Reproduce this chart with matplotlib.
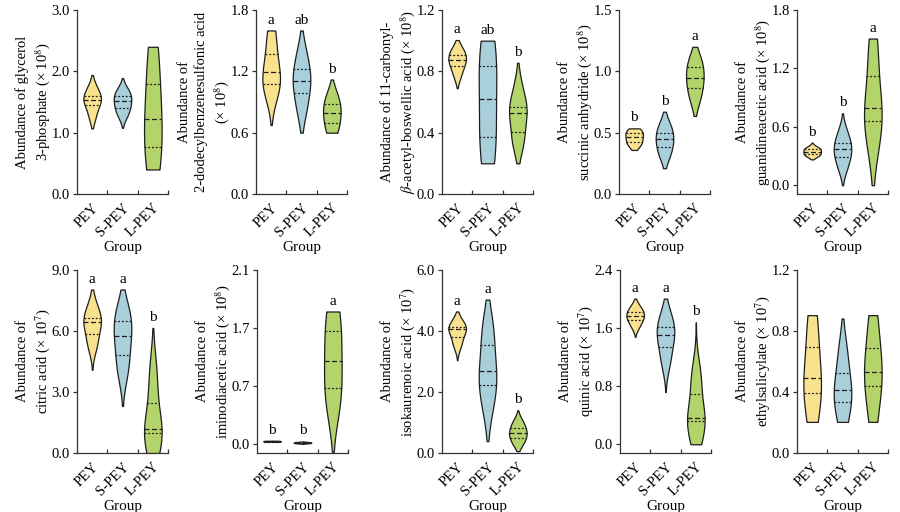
import numpy as np
import matplotlib.pyplot as plt
from matplotlib.transforms import ScaledTranslation

# Fontes: serifada parecida com Times, e STIX para a parte matemática
plt.rcParams['font.family'] = ['Liberation Serif', 'DejaVu Serif']
plt.rcParams['mathtext.fontset'] = 'stix'
plt.rcParams['font.size'] = 10.5

# Grupos e cores dos violinos
grupos = ['PEY', 'S-PEY', 'L-PEY']
cores = ['#F8E28D', '#A9CFDB', '#B3D36B']

# Amostras estimadas de cada metabólito (PEY, S-PEY, L-PEY)
# e a extensão visível de cada violino (mínimo, máximo)
glicerol = [[1.25, 1.42, 1.52, 1.56, 1.62, 1.75],
            [1.28, 1.38, 1.47, 1.55, 1.62, 1.70],
            [0.40, 0.65, 1.10, 1.36, 1.93, 2.40]]
glicerol_lim = [(1.07, 1.94), (1.08, 1.89), (0.40, 2.40)]
glicerol_letras = ['', '', '']

dodecil = [[0.98, 1.05, 1.16, 1.22, 1.42, 1.60],
           [0.80, 0.95, 1.09, 1.13, 1.25, 1.40],
           [0.60, 0.67, 0.78, 0.81, 0.90, 0.98]]
dodecil_lim = [(0.675, 1.60), (0.60, 1.60), (0.60, 1.12)]
dodecil_letras = ['a', 'ab', 'b']

boswellico = [[0.77, 0.83, 0.86, 0.89, 0.913, 0.95],
              [0.20, 0.33, 0.50, 0.74, 0.87, 1.00],
              [0.33, 0.372, 0.51, 0.55, 0.575, 0.70]]
boswellico_lim = [(0.69, 1.004), (0.20, 1.00), (0.20, 0.856)]
boswellico_letras = ['a', 'ab', 'b']

succinico = [[0.39, 0.42, 0.445, 0.48, 0.507, 0.52],
             [0.30, 0.367, 0.42, 0.472, 0.51, 0.58],
             [0.76, 0.85, 0.92, 0.976, 1.05, 1.11]]
succinico_lim = [(0.359, 0.535), (0.21, 0.671), (0.636, 1.20)]
succinico_letras = ['b', 'b', 'a']

guanidina = [[0.30, 0.315, 0.335, 0.355, 0.373, 0.39],
             [0.17, 0.27, 0.34, 0.398, 0.452, 0.56],
             [0.40, 0.635, 0.74, 0.846, 1.22, 1.507]]
guanidina_lim = [(0.266, 0.438), (0.0, 0.738), (0.0, 1.507)]
guanidina_letras = ['b', 'b', 'a']

citrico = [[5.2, 5.7, 6.3, 6.56, 6.67, 7.3],
           [3.9, 4.6, 5.52, 5.96, 6.69, 7.0],
           [0.0, 0.95, 1.15, 1.19, 2.9, 4.2]]
citrico_lim = [(4.09, 8.04), (2.31, 8.04), (0.0, 6.15)]
citrico_letras = ['a', 'a', 'b']

iminodiacetico = [[0.030, 0.033, 0.035, 0.037, 0.039, 0.042],
                  [0.012, 0.016, 0.019, 0.021, 0.024, 0.028],
                  [0.45, 0.60, 0.90, 1.116, 1.45, 1.60]]
iminodiacetico_lim = [(0.030, 0.042), (0.005, 0.035), (-0.09, 1.60)]
iminodiacetico_letras = ['b', 'b', 'a']

isokaurenoico = [[3.50, 3.747, 4.00, 4.10, 4.127, 4.35],
                 [1.50, 2.123, 2.55, 2.81, 3.783, 4.20],
                 [0.30, 0.457, 0.63, 0.69, 0.877, 1.05]]
isokaurenoico_lim = [(3.04, 4.64), (0.39, 5.03), (0.06, 1.40)]
isokaurenoico_letras = ['a', 'a', 'b']

quinico = [[1.62, 1.702, 1.75, 1.79, 1.835, 1.90],
           [1.10, 1.29, 1.47, 1.548, 1.644, 1.80],
           [0.0, 0.307, 0.34, 0.38, 0.80, 1.00]]
quinico_lim = [(1.48, 2.006), (0.72, 2.006), (0.0, 1.68)]
quinico_letras = ['a', 'a', 'b']

etilsalicilato = [[0.204, 0.374, 0.45, 0.532, 0.747, 0.904],
                  [0.204, 0.317, 0.39, 0.432, 0.557, 0.70],
                  [0.204, 0.416, 0.50, 0.56, 0.729, 0.904]]
etilsalicilato_lim = [(0.204, 0.904), (0.204, 0.882), (0.204, 0.904)]
etilsalicilato_letras = ['', '', '']

# Rótulos e escalas de cada painel
paineis = [
    (glicerol, glicerol_lim, glicerol_letras,
     'Abundance of glycerol\n3-phosphate (× 10$^{8}$)', (0, 3.0), [0, 1, 2, 3], None),
    (dodecil, dodecil_lim, dodecil_letras,
     'Abundance of\n2-dodecylbenzenesulfonic acid\n(× 10$^{8}$)', (0, 1.8), [0, 0.6, 1.2, 1.8], None),
    (boswellico, boswellico_lim, boswellico_letras,
     'Abundance of 11-carbonyl-\n$\\beta$-acetyl-boswellic acid (× 10$^{8}$)', (0, 1.2), [0, 0.4, 0.8, 1.2], None),
    (succinico, succinico_lim, succinico_letras,
     'Abundance of\nsuccinic anhydride (× 10$^{8}$)', (0, 1.5), [0, 0.5, 1.0, 1.5], None),
    (guanidina, guanidina_lim, guanidina_letras,
     'Abundance of\nguanidineacetic acid (× 10$^{8}$)', (-0.09, 1.8), [0, 0.6, 1.2, 1.8], None),
    (citrico, citrico_lim, citrico_letras,
     'Abundance of\ncitric acid (× 10$^{7}$)', (0, 9.0), [0, 3, 6, 9], None),
    (iminodiacetico, iminodiacetico_lim, iminodiacetico_letras,
     'Abundance of\niminodiacetic acid (× 10$^{8}$)', (-0.105, 2.1), [0, 0.7, 1.4, 2.1],
     ['0.0', '0.7', '1.7', '2.1']),
    (isokaurenoico, isokaurenoico_lim, isokaurenoico_letras,
     'Abundance of\nisokaurenoic acid (× 10$^{7}$)', (0, 6.0), [0, 2, 4, 6], None),
    (quinico, quinico_lim, quinico_letras,
     'Abundance of\nquinic acid (× 10$^{7}$)', (-0.12, 2.4), [0, 0.8, 1.6, 2.4], None),
    (etilsalicilato, etilsalicilato_lim, etilsalicilato_letras,
     'Abundance of\nethylsalicylate (× 10$^{7}$)', (0, 1.2), [0, 0.4, 0.8, 1.2], None),
]

# Posição dos eixos em pixels (esquerda) para cada linha
esquerdas = [[77, 256, 442, 619, 797], [77, 257, 442, 620, 797]]


def densidade(amostra, grade):
    # Estimativa de densidade por kernel gaussiano (regra de Scott)
    x = np.asarray(amostra, dtype=float)
    h = x.std(ddof=1) * len(x) ** (-1 / 5)
    z = (grade[:, None] - x[None, :]) / h
    return np.exp(-0.5 * z ** 2).sum(axis=1) / (len(x) * h * np.sqrt(2 * np.pi))


fig = plt.figure(figsize=(9, 5.12), dpi=100)
meia = 0.29
cor_linha = '#1e1e1e'
desloca = ScaledTranslation(4 / 100, 0, fig.dpi_scale_trans)

for k, (amostras, limites, letras, rotulo, ylim, yticks, ylabels) in enumerate(paineis):
    linha, col = divmod(k, 5)
    if linha == 0:
        base, alt = (512 - 194) / 512, 184 / 512
    else:
        base, alt = (512 - 453) / 512, 183 / 512
    ax = fig.add_axes([esquerdas[linha][col] / 900, base, 91 / 900, alt])

    for i, amostra in enumerate(amostras):
        lo, hi = limites[i]
        grade = np.linspace(lo, hi, 300)
        dens = densidade(amostra, grade)
        w = dens / dens.max() * meia
        ax.fill_betweenx(grade, i - w, i + w, facecolor=cores[i],
                         edgecolor=cor_linha, linewidth=0.9, zorder=2)
        # quartis: mediana tracejada, Q1 e Q3 pontilhados
        q1, med, q3 = np.percentile(amostra, [25, 50, 75])
        for q, estilo in [(q1, (0, (1.5, 1.5))), (med, (0, (4, 2))), (q3, (0, (1.5, 1.5)))]:
            wq = np.interp(q, grade, w)
            ax.plot([i - wq, i + wq], [q, q], color=cor_linha, lw=0.9,
                    linestyle=estilo, zorder=3)
        if letras[i]:
            ax.annotate(letras[i], xy=(i, hi), xytext=(0, 5), textcoords='offset points',
                        ha='center', va='baseline', fontsize=11)

    ax.set_xlim(-0.5, 2.5)
    ax.set_ylim(*ylim)
    ax.set_yticks(yticks)
    if ylabels is None:
        ax.set_yticklabels([f'{v:.1f}' for v in yticks])
    else:
        ax.set_yticklabels(ylabels)
    ax.set_xticks([0, 1, 2])
    ax.set_xticklabels(grupos, rotation=45, ha='right', va='top', rotation_mode='anchor')
    for rot in ax.get_xticklabels():
        rot.set_transform(rot.get_transform() + desloca)
    ax.set_xticks([0.5, 1.5, 2.5], minor=True)
    ax.tick_params(axis='x', which='major', length=0, pad=5)
    ax.tick_params(axis='x', which='minor', direction='in', length=3, width=0.9, color='#333333')
    ax.tick_params(axis='y', direction='out', length=3, width=0.9, color='#333333', pad=2)
    ax.spines['top'].set_visible(False)
    ax.spines['right'].set_visible(False)
    for s in ['left', 'bottom']:
        ax.spines[s].set_linewidth(0.9)
        ax.spines[s].set_color('#333333')
    ax.set_xlabel('Group', labelpad=1, fontsize=11)
    ax.set_ylabel(rotulo, linespacing=1.3)
    ax.yaxis.set_label_coords(-0.27, 0.5)

fig.savefig('out.png', dpi=100)
